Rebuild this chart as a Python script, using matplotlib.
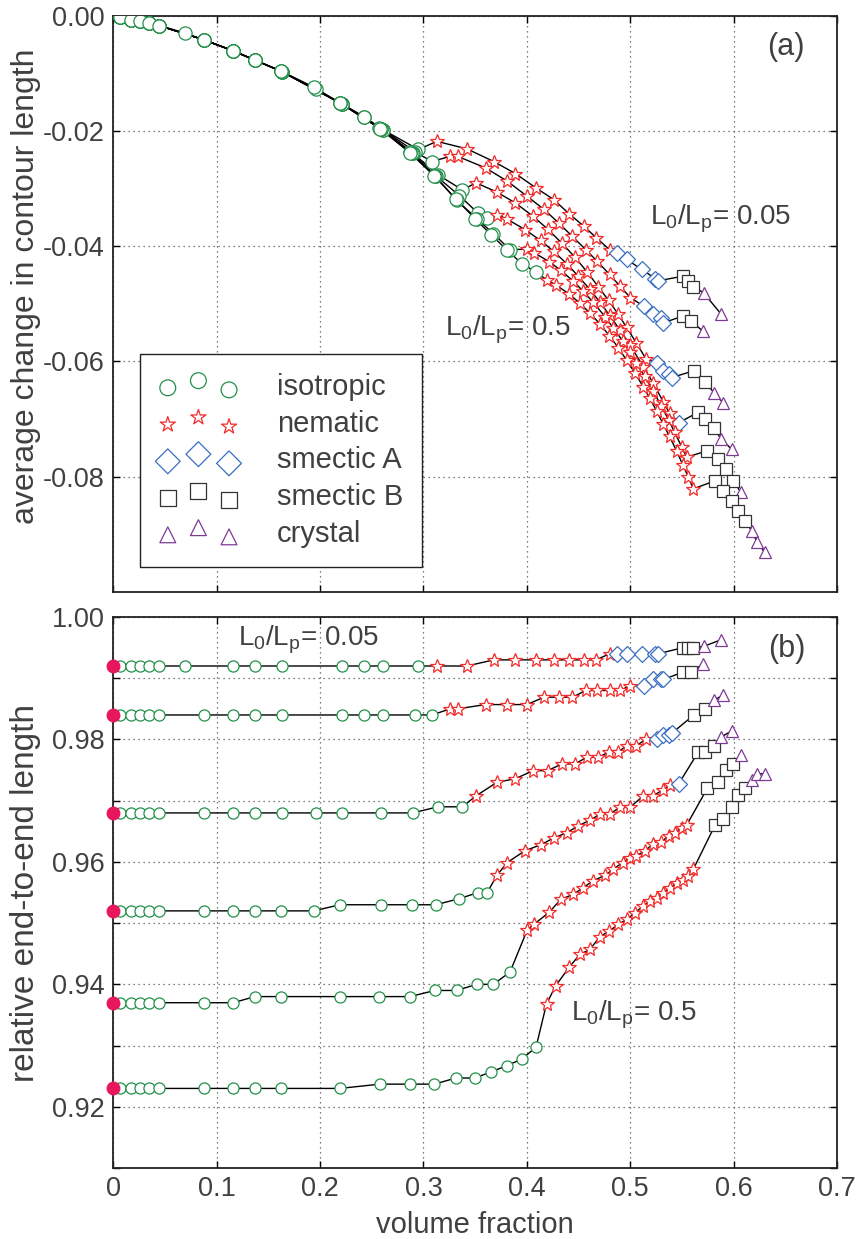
import numpy as np
import matplotlib
matplotlib.use('Agg')
import matplotlib.pyplot as plt
from matplotlib.ticker import MultipleLocator, FormatStrFormatter

# --- Data: six chain stiffnesses, L0/Lp = 0.05 (s1) ... 0.5 (s6) ---
# volume fractions per phase (same state points in both panels)
iso_phi = [
    [0.0065, 0.017, 0.026, 0.035, 0.044, 0.0695, 0.116, 0.137, 0.163, 0.221, 0.242, 0.261, 0.295],
    [0.0065, 0.017, 0.026, 0.035, 0.044, 0.088, 0.116, 0.137, 0.163, 0.221, 0.242, 0.261, 0.292, 0.308],
    [0.0065, 0.017, 0.026, 0.035, 0.044, 0.088, 0.116, 0.137, 0.163, 0.196, 0.221, 0.259, 0.2895, 0.314, 0.3375],
    [0.0065, 0.017, 0.026, 0.035, 0.044, 0.088, 0.116, 0.137, 0.162, 0.194, 0.219, 0.259, 0.2886, 0.312, 0.3347, 0.353, 0.3617],
    [0.0065, 0.017, 0.026, 0.035, 0.044, 0.088, 0.116, 0.137, 0.162, 0.219, 0.257, 0.287, 0.311, 0.332, 0.3515, 0.3675, 0.3837],
    [0.0065, 0.017, 0.026, 0.035, 0.044, 0.088, 0.116, 0.137, 0.162, 0.219, 0.258, 0.287, 0.3105, 0.3314, 0.3498, 0.3653, 0.3805, 0.395, 0.4088],
]
nem_phi = [
    [0.313, 0.342, 0.368, 0.389, 0.409, 0.426, 0.441, 0.455, 0.467, 0.480],
    [0.326, 0.333, 0.360, 0.381, 0.400, 0.4165, 0.431, 0.444, 0.457, 0.468, 0.480, 0.490, 0.500],
    [0.351, 0.371, 0.389, 0.406, 0.420, 0.434, 0.4465, 0.458, 0.469, 0.479, 0.488, 0.4965, 0.506, 0.515],
    [0.371, 0.381, 0.398, 0.4133, 0.426, 0.439, 0.4497, 0.461, 0.4707, 0.480, 0.490, 0.4997, 0.5126, 0.522, 0.532, 0.538],
    [0.4004, 0.4069, 0.4217, 0.433, 0.445, 0.4545, 0.464, 0.4755, 0.4836, 0.4926, 0.4997, 0.506, 0.514, 0.522, 0.530, 0.537, 0.543, 0.5497, 0.5545],
    [0.419, 0.428, 0.441, 0.4513, 0.461, 0.4707, 0.4797, 0.4884, 0.4965, 0.5045, 0.5126, 0.519, 0.5255, 0.532, 0.538, 0.545, 0.551, 0.556, 0.561],
]
smA_phi = [
    [0.487, 0.4965, 0.511, 0.524, 0.527],
    [0.513, 0.522, 0.530, 0.532],
    [0.5255, 0.532, 0.537, 0.540],
    [0.547],
    [],
    [],
]
smB_phi = [
    [0.551, 0.556, 0.561],
    [0.551, 0.559],
    [0.5616, 0.572],
    [0.566, 0.572, 0.581],
    [0.5745, 0.585, 0.5926, 0.5997],
    [0.582, 0.590, 0.598, 0.6045, 0.611],
]
cry_phi = [
    [0.571, 0.588],
    [0.570],
    [0.581, 0.590],
    [0.588, 0.598],
    [0.607],
    [0.6174, 0.6228, 0.630],
]

# (a) average change in contour length
early_dL = [-0.0002, -0.0007, -0.0010, -0.0013, -0.0017]
iso_dL = [
    early_dL + [-0.0030, -0.0061, -0.0077, -0.0097, -0.0153, -0.0175, -0.0198, -0.0232],
    early_dL + [-0.0042, -0.0061, -0.0077, -0.0097, -0.0153, -0.0175, -0.0198, -0.0236, -0.0253],
    early_dL + [-0.0042, -0.0061, -0.0077, -0.0097, -0.0127, -0.0153, -0.0196, -0.0238, -0.0276, -0.0302],
    early_dL + [-0.0042, -0.0061, -0.0077, -0.0096, -0.0124, -0.0151, -0.0197, -0.0238, -0.0278, -0.0312, -0.0343, -0.0351],
    early_dL + [-0.0042, -0.0061, -0.0077, -0.0096, -0.0151, -0.0194, -0.0237, -0.0278, -0.0320, -0.0352, -0.0378, -0.0406],
    early_dL + [-0.0042, -0.0061, -0.0077, -0.0096, -0.0151, -0.0196, -0.0238, -0.0278, -0.0318, -0.0352, -0.0380, -0.0406, -0.0430, -0.0445],
]
nem_dL = [
    [-0.0218, -0.0231, -0.0253, -0.0274, -0.0299, -0.0319, -0.0344, -0.0365, -0.0385, -0.0406],
    [-0.0244, -0.0244, -0.0264, -0.0287, -0.0313, -0.0336, -0.0360, -0.0383, -0.0406, -0.0426, -0.0449, -0.0469, -0.0489],
    [-0.0290, -0.0306, -0.0325, -0.0348, -0.0370, -0.0395, -0.0419, -0.0444, -0.0470, -0.0494, -0.0517, -0.0541, -0.0568, -0.0595],
    [-0.0345, -0.0353, -0.0371, -0.0390, -0.0409, -0.0431, -0.0452, -0.0475, -0.0497, -0.0520, -0.0545, -0.0571, -0.0609, -0.0637, -0.0670, -0.0690],
    [-0.0405, -0.0411, -0.0427, -0.0442, -0.0461, -0.0478, -0.0497, -0.0522, -0.0542, -0.0564, -0.0584, -0.0602, -0.0626, -0.0651, -0.0677, -0.0701, -0.0723, -0.0748, -0.0766],
    [-0.0458, -0.0467, -0.0483, -0.0499, -0.0516, -0.0535, -0.0555, -0.0576, -0.0598, -0.0620, -0.0644, -0.0664, -0.0686, -0.0709, -0.0730, -0.0756, -0.0780, -0.0800, -0.0821],
]
smA_dL = [
    [-0.0411, -0.0423, -0.0440, -0.0456, -0.0460],
    [-0.0504, -0.0518, -0.0524, -0.0533],
    [-0.0602, -0.0616, -0.0622, -0.0628],
    [-0.0706],
    [],
    [],
]
smB_dL = [
    [-0.0452, -0.0460, -0.0470],
    [-0.0521, -0.0530],
    [-0.0616, -0.0635],
    [-0.0688, -0.0700, -0.0716],
    [-0.0755, -0.0770, -0.0787, -0.0807],
    [-0.0807, -0.0824, -0.0842, -0.0859, -0.0876],
]
cry_dL = [
    [-0.0481, -0.0518],
    [-0.0547],
    [-0.0654, -0.0672],
    [-0.0735, -0.0752],
    [-0.0827],
    [-0.0894, -0.0914, -0.0931],
]

# (b) relative end-to-end length
iso_R = [
    [0.992, 0.992, 0.992, 0.992, 0.992, 0.992, 0.992, 0.992, 0.992, 0.992, 0.992, 0.992, 0.992],
    [0.984, 0.984, 0.984, 0.984, 0.984, 0.984, 0.984, 0.984, 0.984, 0.984, 0.984, 0.984, 0.984, 0.984],
    [0.968, 0.968, 0.968, 0.968, 0.968, 0.968, 0.968, 0.968, 0.968, 0.968, 0.968, 0.968, 0.968, 0.969, 0.969],
    [0.952, 0.952, 0.952, 0.952, 0.952, 0.952, 0.952, 0.952, 0.952, 0.952, 0.953, 0.953, 0.953, 0.953, 0.954, 0.955, 0.955],
    [0.937, 0.937, 0.937, 0.937, 0.937, 0.937, 0.937, 0.938, 0.938, 0.938, 0.938, 0.938, 0.939, 0.939, 0.940, 0.940, 0.942],
    [0.923, 0.923, 0.923, 0.923, 0.923, 0.923, 0.923, 0.923, 0.923, 0.923, 0.9237, 0.9237, 0.9237, 0.9247, 0.9247, 0.9257, 0.9267, 0.9278, 0.9297],
]
nem_R = [
    [0.992, 0.992, 0.993, 0.993, 0.993, 0.993, 0.993, 0.993, 0.993, 0.994],
    [0.985, 0.985, 0.9857, 0.9857, 0.9857, 0.9869, 0.9869, 0.9869, 0.988, 0.988, 0.988, 0.988, 0.9888],
    [0.9708, 0.973, 0.9736, 0.9749, 0.9749, 0.976, 0.976, 0.9771, 0.9771, 0.9779, 0.9779, 0.979, 0.979, 0.980],
    [0.9578, 0.9599, 0.9618, 0.9628, 0.9639, 0.9648, 0.9659, 0.9668, 0.9678, 0.9678, 0.9689, 0.9689, 0.9708, 0.9708, 0.9718, 0.9725],
    [0.9489, 0.9498, 0.9518, 0.9539, 0.9547, 0.9558, 0.9569, 0.9578, 0.9588, 0.9599, 0.9607, 0.961, 0.9618, 0.9629, 0.9632, 0.9643, 0.9648, 0.9656, 0.966],
    [0.9368, 0.9398, 0.9428, 0.9449, 0.9457, 0.9478, 0.9487, 0.9498, 0.9506, 0.9517, 0.9528, 0.9536, 0.9541, 0.955, 0.9557, 0.9566, 0.9571, 0.9577, 0.9588],
]
smA_R = [
    [0.994, 0.994, 0.994, 0.994, 0.994],
    [0.9888, 0.9898, 0.9898, 0.9898],
    [0.980, 0.9807, 0.9807, 0.981],
    [0.9728],
    [],
    [],
]
smB_R = [
    [0.995, 0.995, 0.995],
    [0.991, 0.991],
    [0.984, 0.985],
    [0.978, 0.978, 0.979],
    [0.972, 0.973, 0.975, 0.976],
    [0.966, 0.967, 0.969, 0.971, 0.972],
]
cry_R = [
    [0.9952, 0.9963],
    [0.9923],
    [0.9864, 0.9873],
    [0.9804, 0.9814],
    [0.9774],
    [0.9733, 0.9744, 0.9744],
]
# limiting value at zero density (filled dots)
R_zero = [0.992, 0.984, 0.968, 0.952, 0.937, 0.923]

phase_names = ['isotropic', 'nematic', 'smectic A', 'smectic B', 'crystal']
phase_markers = ['o', '*', 'D', 's', '^']
phase_colors = ['#23904a', '#f22a2a', '#3a6fc0', '#333333', '#7e3b96']
phase_ms_top = [9.5, 10.5, 8.5, 8.5, 8.5]
phase_ms_bot = [8, 10, 8.5, 8.5, 8.5]

txt = '#404040'
plt.rcParams['font.family'] = ['Liberation Sans', 'DejaVu Sans']
plt.rcParams['axes.unicode_minus'] = False
plt.rcParams['mathtext.default'] = 'regular'

fig = plt.figure(figsize=(8.57, 12.39), dpi=100)
ax1 = fig.add_axes([0.1322, 0.5222, 0.8445, 0.4651])
ax2 = fig.add_axes([0.1322, 0.0573, 0.8445, 0.4447])


def draw_panel(ax, iso, nem, smA, smB, cry, sizes):
    for k in range(6):
        xs = [iso_phi[k], nem_phi[k], smA_phi[k], smB_phi[k], cry_phi[k]]
        ys = [iso[k], nem[k], smA[k], smB[k], cry[k]]
        ax.plot(np.concatenate(xs), np.concatenate(ys), color='black', lw=1.0, zorder=2)
        for p in range(5):
            if len(xs[p]) == 0:
                continue
            ax.plot(xs[p], ys[p], linestyle='none', marker=phase_markers[p],
                    ms=sizes[p], mfc='white', mec=phase_colors[p], mew=0.9, zorder=3)


draw_panel(ax1, iso_dL, nem_dL, smA_dL, smB_dL, cry_dL, phase_ms_top)
draw_panel(ax2, iso_R, nem_R, smA_R, smB_R, cry_R, phase_ms_bot)
ax2.plot(np.zeros(len(R_zero)), R_zero, 'o', color='#e8175d', ms=9, clip_on=False, zorder=5)

for ax in (ax1, ax2):
    ax.set_xlim(0, 0.7)
    ax.xaxis.set_major_locator(MultipleLocator(0.1))
    ax.grid(True, which='major', linestyle=(0, (1, 3)), color='#555555', linewidth=0.9)
    ax.tick_params(which='both', direction='in', top=True, right=True, length=5, width=1,
                   labelsize=19.5, labelcolor=txt, pad=6)
    for sp in ax.spines.values():
        sp.set_linewidth(1.3)
        sp.set_color('#222222')
    ax.set_axisbelow(True)

ax1.set_ylim(-0.1, 0)
ax1.set_yticks([-0.08, -0.06, -0.04, -0.02, 0.0])
ax1.yaxis.set_major_formatter(FormatStrFormatter('%.2f'))
ax1.tick_params(labelbottom=False)
ax1.set_ylabel('average change in contour length', fontsize=23, color=txt)
ax1.yaxis.set_label_coords(-0.1, 0.53)

ax2.set_ylim(0.91, 1.0)
ax2.set_yticks([0.92, 0.94, 0.96, 0.98, 1.00])
ax2.yaxis.set_minor_locator(MultipleLocator(0.01))
ax2.yaxis.set_major_formatter(FormatStrFormatter('%.2f'))
ax2.grid(True, which='minor', axis='y', linestyle=(0, (1, 3)), color='#555555', linewidth=0.9)
ax2.set_xticks(np.arange(0, 0.71, 0.1))
ax2.set_xticklabels(['0', '0.1', '0.2', '0.3', '0.4', '0.5', '0.6', '0.7'])
ax2.set_xlabel('volume fraction', fontsize=21, color=txt, labelpad=6)
ax2.set_ylabel('relative end-to-end length', fontsize=24, color=txt)
ax2.yaxis.set_label_coords(-0.1, 0.5)

# annotations
ax1.text(0.587, -0.0352, 'L$_0$/L$_p$= 0.05', fontsize=20, color=txt, ha='center', va='center')
ax1.text(0.382, -0.0545, 'L$_0$/L$_p$= 0.5', fontsize=20, color=txt, ha='center', va='center')
ax1.text(0.651, -0.0055, '(a)', fontsize=22, color=txt, ha='center', va='center')
ax2.text(0.189, 0.9963, 'L$_0$/L$_p$= 0.05', fontsize=20, color=txt, ha='center', va='center')
ax2.text(0.503, 0.935, 'L$_0$/L$_p$= 0.5', fontsize=20, color=txt, ha='center', va='center')
ax2.text(0.651, 0.9948, '(b)', fontsize=22, color=txt, ha='center', va='center')

# legend with three jittered markers per entry
handles = []
for p in range(5):
    h = ax1.scatter([], [], marker=phase_markers[p], s=130 if p != 2 else 160,
                    facecolors='none', edgecolors=phase_colors[p], linewidths=0.9)
    handles.append(h)
leg = ax1.legend(handles, phase_names, loc='upper left', bbox_to_anchor=(0.037, 0.413),
                 borderaxespad=0, scatterpoints=3, scatteryoffsets=[0.35, 0.7, 0.25],
                 fontsize=21, handlelength=2.7, handletextpad=1.35, borderpad=0.65,
                 labelspacing=0.3, fancybox=False, framealpha=1, edgecolor='#222222')
leg.get_frame().set_linewidth(1.0)
for t in leg.get_texts():
    t.set_color(txt)

fig.savefig('out.png', dpi=100)
